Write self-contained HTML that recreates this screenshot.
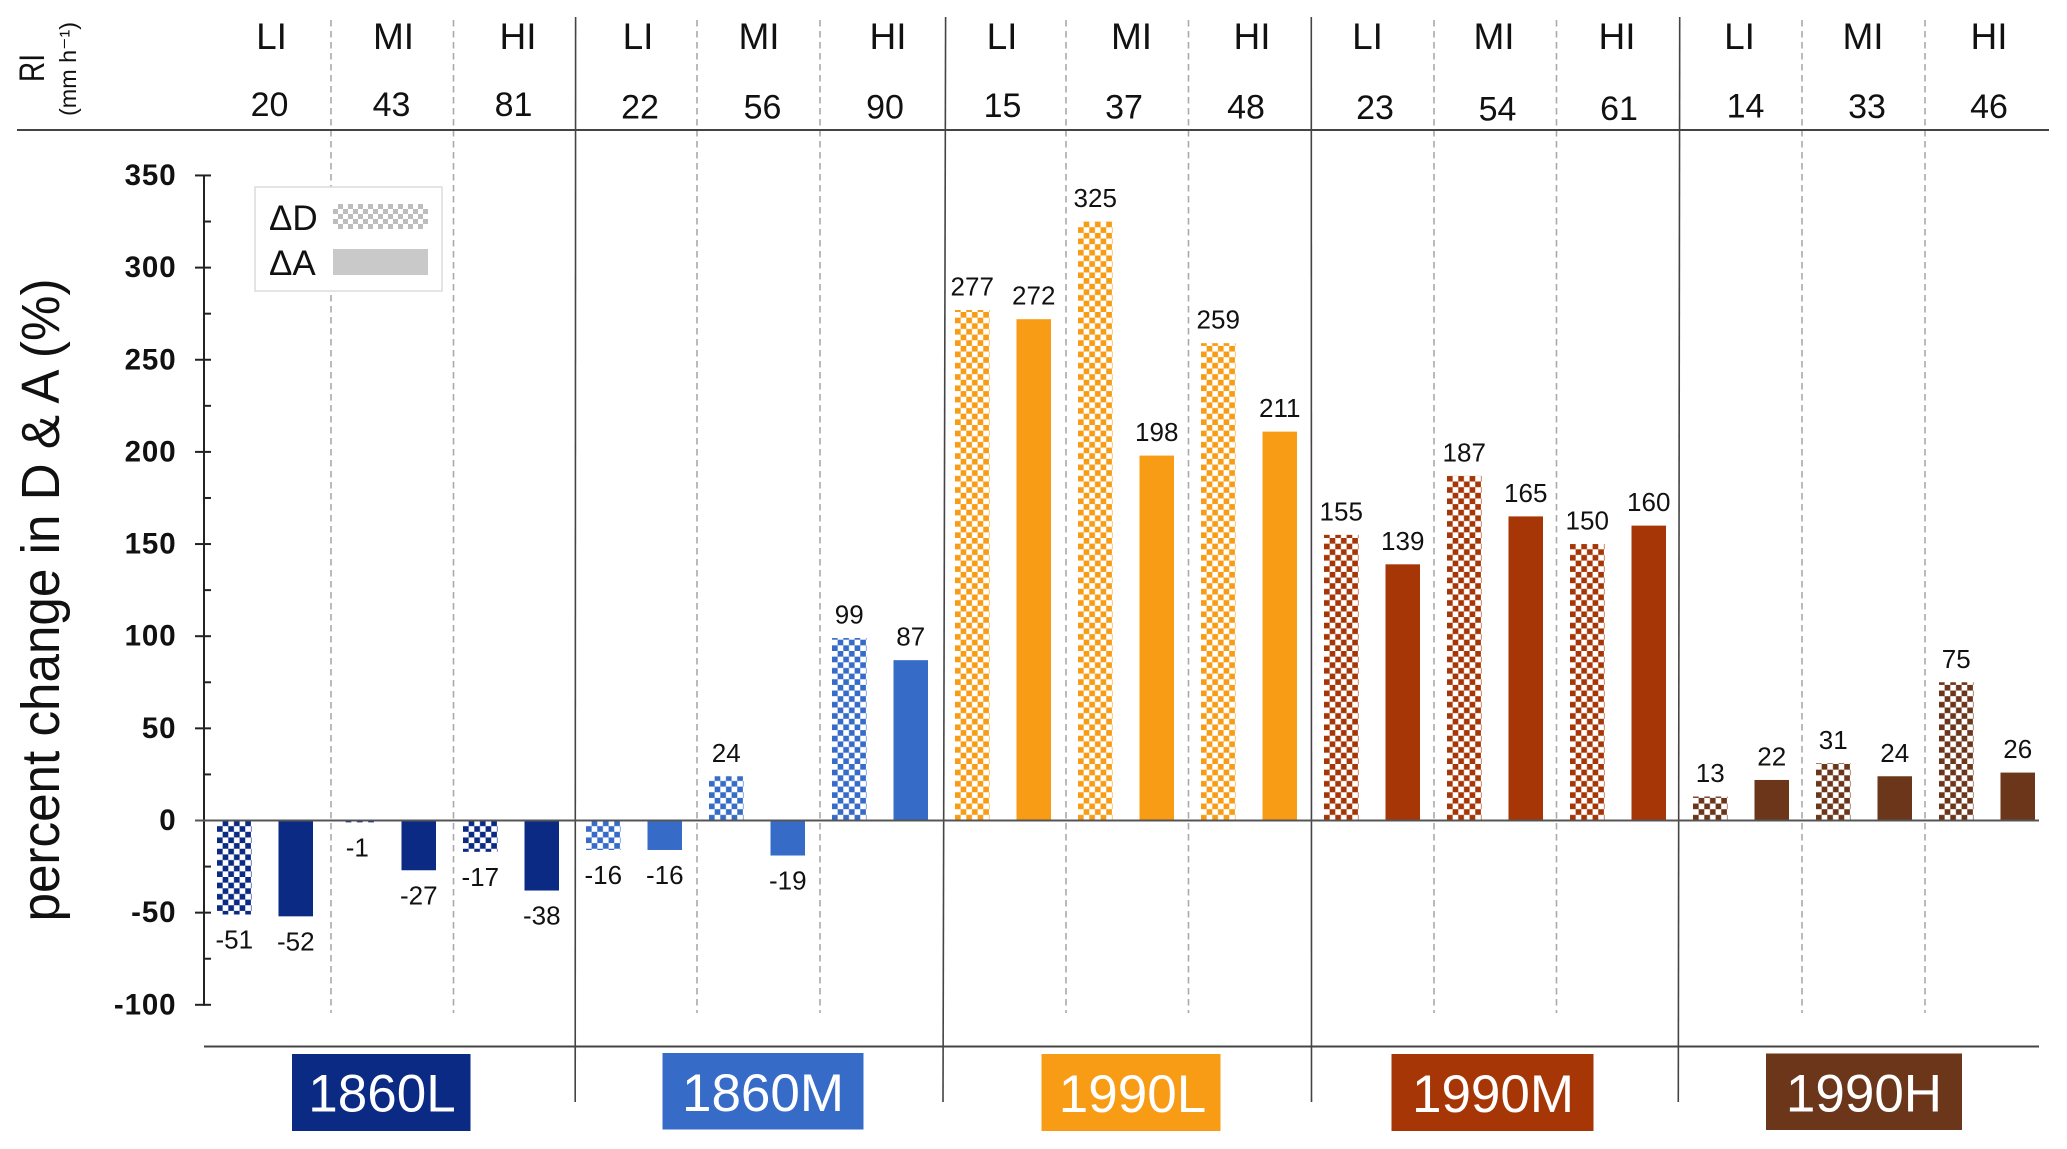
<!DOCTYPE html>
<html lang="en">
<head>
<meta charset="utf-8">
<title>Percent change in D and A</title>
<style>
  html, body { margin: 0; padding: 0; background: #fff; }
  svg { display: block; font-family: "Liberation Sans", sans-serif; }
  .hdr { font-size: 37px; fill: #111; text-anchor: middle; }
  .ri { font-size: 34px; fill: #111; text-anchor: middle; }
  .grp { font-size: 53px; fill: #fff; text-anchor: middle; }
  .dash { stroke: #aaa; stroke-width: 1.6; stroke-dasharray: 6.5 4.5; }
  .solid { stroke: #444; stroke-width: 1.6; }
  .rule { stroke: #444; stroke-width: 2; }
</style>
</head>
<body>
<svg id="chart" width="2067" height="1149" viewBox="0 0 2067 1149" xmlns="http://www.w3.org/2000/svg">
  <rect x="0" y="0" width="2067" height="1149" fill="#fff"/>
  <defs id="defs">
    <pattern id="legend-check" patternUnits="userSpaceOnUse" x="333" y="204" width="10" height="10">
      <rect x="5" y="0" width="5" height="5" fill="#bdbdbd"/>
      <rect x="0" y="5" width="5" height="5" fill="#bdbdbd"/>
    </pattern>
  </defs>

  <g>
    <line class="dash" x1="331" y1="20" x2="331" y2="1013"/>
    <line class="dash" x1="453.5" y1="20" x2="453.5" y2="1013"/>
    <line class="dash" x1="697" y1="20" x2="697" y2="1013"/>
    <line class="dash" x1="820" y1="20" x2="820" y2="1013"/>
    <line class="dash" x1="1066" y1="20" x2="1066" y2="1013"/>
    <line class="dash" x1="1188.5" y1="20" x2="1188.5" y2="1013"/>
    <line class="dash" x1="1434" y1="20" x2="1434" y2="1013"/>
    <line class="dash" x1="1556.5" y1="20" x2="1556.5" y2="1013"/>
    <line class="dash" x1="1802" y1="20" x2="1802" y2="1013"/>
    <line class="dash" x1="1925" y1="20" x2="1925" y2="1013"/>
  </g>
  <g>
    <line class="solid" x1="575.6" y1="17" x2="575.2" y2="1102"/>
    <line class="solid" x1="945.6" y1="17" x2="943" y2="1102"/>
    <line class="solid" x1="1311.3" y1="17" x2="1311.5" y2="1102"/>
    <line class="solid" x1="1679.7" y1="17" x2="1678.3" y2="1102"/>
  </g>
  <line class="rule" x1="17" y1="130" x2="2049" y2="130"/>
  <line class="rule" x1="204" y1="1046.5" x2="2039" y2="1046.5"/>

  <g>
    <text transform="translate(44,68) rotate(-90)" text-anchor="middle" font-size="35" fill="#111" textLength="28" lengthAdjust="spacingAndGlyphs">RI</text>
    <text transform="translate(76,69) rotate(-90)" text-anchor="middle" font-size="23" fill="#111" textLength="94" lengthAdjust="spacingAndGlyphs">(mm h⁻¹)</text>
  </g>

  <g>
    <text class="hdr" x="271.5" y="49">LI</text>
    <text class="hdr" x="393.5" y="49">MI</text>
    <text class="hdr" x="518" y="49">HI</text>
    <text class="hdr" x="638" y="49">LI</text>
    <text class="hdr" x="759" y="49">MI</text>
    <text class="hdr" x="888" y="49">HI</text>
    <text class="hdr" x="1002" y="49">LI</text>
    <text class="hdr" x="1131.5" y="49">MI</text>
    <text class="hdr" x="1252" y="49">HI</text>
    <text class="hdr" x="1367.5" y="49">LI</text>
    <text class="hdr" x="1494" y="49">MI</text>
    <text class="hdr" x="1617" y="49">HI</text>
    <text class="hdr" x="1739.5" y="49">LI</text>
    <text class="hdr" x="1863" y="49">MI</text>
    <text class="hdr" x="1989" y="49">HI</text>
  </g>
  <g>
    <text class="ri" x="269.5" y="116">20</text>
    <text class="ri" x="391.5" y="116">43</text>
    <text class="ri" x="513.5" y="116">81</text>
    <text class="ri" x="640" y="118.5">22</text>
    <text class="ri" x="762.5" y="118.5">56</text>
    <text class="ri" x="885" y="118.5">90</text>
    <text class="ri" x="1002.5" y="117">15</text>
    <text class="ri" x="1124" y="118.5">37</text>
    <text class="ri" x="1246" y="118.5">48</text>
    <text class="ri" x="1375" y="119">23</text>
    <text class="ri" x="1497.5" y="120.5">54</text>
    <text class="ri" x="1619" y="120">61</text>
    <text class="ri" x="1745.5" y="117.5">14</text>
    <text class="ri" x="1867" y="118">33</text>
    <text class="ri" x="1989" y="118">46</text>
  </g>

  <text transform="translate(59,600) rotate(-90)" text-anchor="middle" font-size="54" fill="#111" textLength="643" lengthAdjust="spacingAndGlyphs">percent change in D &amp; A (%)</text>

  <g id="axis"></g>
  <g id="bars"></g>
  <g id="labels"></g>

  <g>
    <rect x="255" y="187" width="187" height="104" fill="#fff" stroke="#dcdcdc" stroke-width="1.5"/>
    <text x="269" y="230" font-size="35" fill="#111">ΔD</text>
    <rect x="333" y="204" width="95" height="25" fill="url(#legend-check)"/>
    <text x="269" y="275" font-size="35" fill="#111">ΔA</text>
    <rect x="333" y="249" width="95" height="26" fill="#c9c9c9"/>
  </g>

  <g>
    <rect x="292" y="1054" width="178.5" height="77" fill="#0a2a84"/>
    <text class="grp" x="382" y="1111.7">1860L</text>
    <rect x="662.5" y="1053" width="201" height="76.5" fill="#366cc7"/>
    <text class="grp" x="763" y="1111">1860M</text>
    <rect x="1041.5" y="1054" width="179" height="77" fill="#f79c14"/>
    <text class="grp" x="1132.5" y="1112">1990L</text>
    <rect x="1391.5" y="1054" width="202" height="77" fill="#a63606"/>
    <text class="grp" x="1493" y="1112">1990M</text>
    <rect x="1766" y="1053.5" width="196" height="76.5" fill="#6c361b"/>
    <text class="grp" x="1864" y="1111.7">1990H</text>
  </g>
</svg>

<script>
const scenarios = ["1860L", "1860M", "1990L", "1990M", "1990H"];
const intensities = ["LI", "MI", "HI"];
const scenarioColors = ["#0a2a84", "#366cc7", "#f79c14", "#a63606", "#6c361b"];
const deltaD = [-51, -1, -17, -16, 24, 99, 277, 325, 259, 155, 187, 150, 13, 31, 75];
const deltaA = [-52, -27, -38, -16, -19, 87, 272, 198, 211, 139, 165, 160, 22, 24, 26];
const majorTicks = [350, 300, 250, 200, 150, 100, 50, 0, -50, -100];
const minorTicks = [325, 275, 225, 175, 125, 75, 25, -25, -75];

const NS = "http://www.w3.org/2000/svg";
function yScale(v) { return 820.5 - 1.843 * v; }
function barX(i) { return 217 + 61.5 * i; }
const BAR_W = 34.5;
const CELL = 5.65;

function make(tag, attrs, parent) {
  const node = document.createElementNS(NS, tag);
  for (const k in attrs) node.setAttribute(k, attrs[k]);
  if (parent) parent.appendChild(node);
  return node;
}

const axis = document.getElementById("axis");
const bars = document.getElementById("bars");
const labels = document.getElementById("labels");
const defs = document.getElementById("defs");

const axisLine = make("line", { x1: 204, x2: 204, y1: yScale(350) - 1, y2: yScale(-100) + 1, stroke: "#222", "stroke-width": 2 }, axis);



majorTicks.forEach(function (v) {
  const t = make("line", { x1: 195, x2: 211, y1: yScale(v), y2: yScale(v), stroke: "#222", "stroke-width": 2 }, axis);
  
  
  const lab = make("text", { x: 176.5, y: yScale(v) + 9.5, "text-anchor": "end", "font-size": 29.5, "font-weight": "bold", "letter-spacing": 0.9, fill: "#111" }, axis);
  lab.textContent = String(v);
  
  
});
minorTicks.forEach(function (v) {
  const t = make("line", { x1: 204, x2: 211, y1: yScale(v), y2: yScale(v), stroke: "#222", "stroke-width": 2 }, axis);
  
  
});

function drawLabel(v, i) {
  const cx = barX(i) + BAR_W / 2;
  const y = v >= 0 ? yScale(v) - 14.5 : yScale(v) + 34;
  const lab = make("text", { x: cx, y: y, "text-anchor": "middle", "font-size": 26, fill: "#111" }, labels);
  lab.textContent = String(v);
  
  
}

function rectFor(v, i) {
  const y0 = yScale(0), y1 = yScale(v);
  return { x: barX(i), y: Math.min(y0, y1), width: BAR_W, height: Math.abs(y1 - y0) };
}

deltaD.forEach(function (v, k) {
  const i = k * 2;
  const color = scenarioColors[Math.floor(k / 3)];
  const pid = "check-" + k;
  const p = make("pattern", { id: pid, patternUnits: "userSpaceOnUse", x: barX(i), y: yScale(0), width: CELL * 2, height: CELL * 2 }, defs);
  make("rect", { x: CELL, y: 0, width: CELL, height: CELL, fill: color }, p);
  make("rect", { x: 0, y: CELL, width: CELL, height: CELL, fill: color }, p);
  const attrs = rectFor(v, i);
  attrs.fill = "url(#" + pid + ")";
  const b = make("rect", attrs, bars);
  
  
  drawLabel(v, i);
});

deltaA.forEach(function (v, k) {
  const i = k * 2 + 1;
  const attrs = rectFor(v, i);
  attrs.fill = scenarioColors[Math.floor(k / 3)];
  const b = make("rect", attrs, bars);
  
  
  drawLabel(v, i);
});

const zero = make("line", { x1: 195, x2: 2039, y1: yScale(0), y2: yScale(0), stroke: "#555", "stroke-width": 2 }, axis.parentNode);


</script>
</body>
</html>
